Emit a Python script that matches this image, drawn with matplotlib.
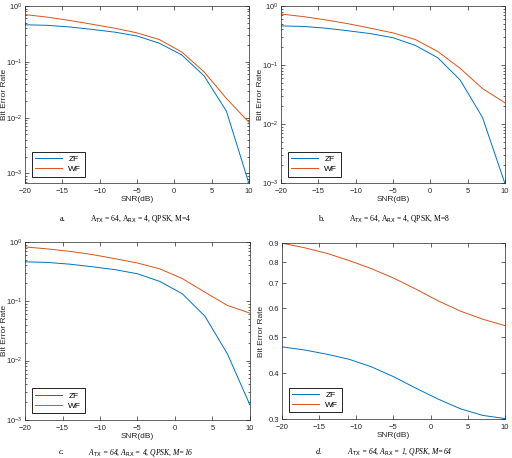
import matplotlib.pyplot as plt
import matplotlib.ticker as mticker
import numpy as np

# ----------------------------
# Data
# ----------------------------

snr = [-20, -17, -14, -11, -8, -5, -2, 1, 4, 7, 10]

zf_a = [0.46, 0.45, 0.42, 0.38, 0.34, 0.29, 0.215, 0.133, 0.056, 0.013, 0.00067]
wf_a = [0.70, 0.63, 0.55, 0.47, 0.40, 0.33, 0.25, 0.15, 0.066, 0.022, 0.0083]

zf_b = [0.46, 0.45, 0.42, 0.38, 0.34, 0.29, 0.215, 0.133, 0.056, 0.013, 0.001]
wf_b = [0.73, 0.66, 0.58, 0.50, 0.42, 0.35, 0.27, 0.17, 0.088, 0.040, 0.023]

zf_c = [0.46, 0.45, 0.42, 0.38, 0.34, 0.29, 0.215, 0.133, 0.056, 0.013, 0.0018]
wf_c = [0.82, 0.76, 0.69, 0.61, 0.52, 0.44, 0.35, 0.24, 0.142, 0.085, 0.063]

zf_d = [0.471, 0.462, 0.450, 0.436, 0.416, 0.391, 0.364, 0.340, 0.320, 0.307, 0.301]
wf_d = [0.900, 0.875, 0.845, 0.808, 0.768, 0.724, 0.676, 0.628, 0.589, 0.560, 0.538]

panels = [
    ("a.", r"A$_{\rm TX}$ = 64, A$_{\rm RX}$ = 4, QPSK, M=4", zf_a, wf_a, (0.00067, 1.0)),
    ("b.", r"A$_{\rm TX}$ = 64, A$_{\rm RX}$ = 4, QPSK, M=8", zf_b, wf_b, (0.001, 1.0)),
    ("c.", r"A$_{\rm TX}$ = 64, A$_{\rm RX}$ = 4, QPSK, M=16", zf_c, wf_c, (0.001, 1.0)),
    ("d.", r"A$_{\rm TX}$ = 64, A$_{\rm RX}$ = 1, QPSK, M=64", zf_d, wf_d, (0.3, 0.9)),
]
d_ticks = [0.3, 0.4, 0.5, 0.6, 0.7, 0.8, 0.9]

# axes boxes in figure fractions: left, bottom, width, height
boxes = [
    [0.049, 0.600, 0.437, 0.387],
    [0.549, 0.600, 0.437, 0.387],
    [0.049, 0.083, 0.439, 0.389],
    [0.551, 0.085, 0.435, 0.384],
]
# (tag x, caption centre x, y) in figure fractions
caption_pos = [(0.123, 0.275, 0.522), (0.627, 0.780, 0.522),
               (0.121, 0.275, 0.013), (0.623, 0.780, 0.014)]

plt.rcParams['font.family'] = 'Liberation Sans'
blue = '#0072BD'
orange = '#D95319'
grey = '#262626'

fig = plt.figure(figsize=(5.12, 4.58), dpi=100)

for i, (tag, cap, zf, wf, ylim) in enumerate(panels):
    ax = fig.add_axes(boxes[i])
    ax.plot(snr, zf, color=blue, lw=0.7, label="ZF")
    ax.plot(snr, wf, color=orange, lw=0.7, label="WF")
    ax.set_yscale('log')
    ax.set_xlim(-20, 10)
    ax.set_ylim(*ylim)
    ax.set_xticks([-20, -15, -10, -5, 0, 5, 10])
    if tag == "d.":
        ax.set_yticks(d_ticks)
        ax.yaxis.set_major_formatter(mticker.FormatStrFormatter('%.1f'))
        ax.yaxis.set_minor_locator(mticker.NullLocator())
    ax.tick_params(which='both', direction='in', top=True, right=True,
                   labelsize=5.5, colors=grey, width=0.5, pad=2)
    ax.tick_params(axis='x', pad=3.5)
    ax.tick_params(which='major', length=3)
    ax.tick_params(which='minor', length=1.5)
    for s in ax.spines.values():
        s.set_color(grey)
        s.set_linewidth(0.5)
    ax.set_xlabel("SNR(dB)", fontsize=6, color=grey, labelpad=1)
    ax.set_ylabel("Bit Error Rate", fontsize=6, color=grey)
    ax.yaxis.set_label_coords(-0.078, 0.5)
    leg = ax.legend(loc='lower left', fontsize=6, handlelength=3.2,
                    fancybox=False, edgecolor='black', framealpha=1,
                    borderaxespad=0.8, labelspacing=0.3)
    leg.get_frame().set_linewidth(0.6)

    tx, cx, cy = caption_pos[i]
    style = 'italic' if tag in ("c.", "d.") else 'normal'
    fig.text(tx, cy, tag, fontsize=6, family='Liberation Serif',
             ha='center', va='center', style=style)
    fig.text(cx, cy, cap, fontsize=5.5, family='Liberation Serif',
             ha='center', va='center', style=style)

fig.savefig("out.png", dpi=100)
